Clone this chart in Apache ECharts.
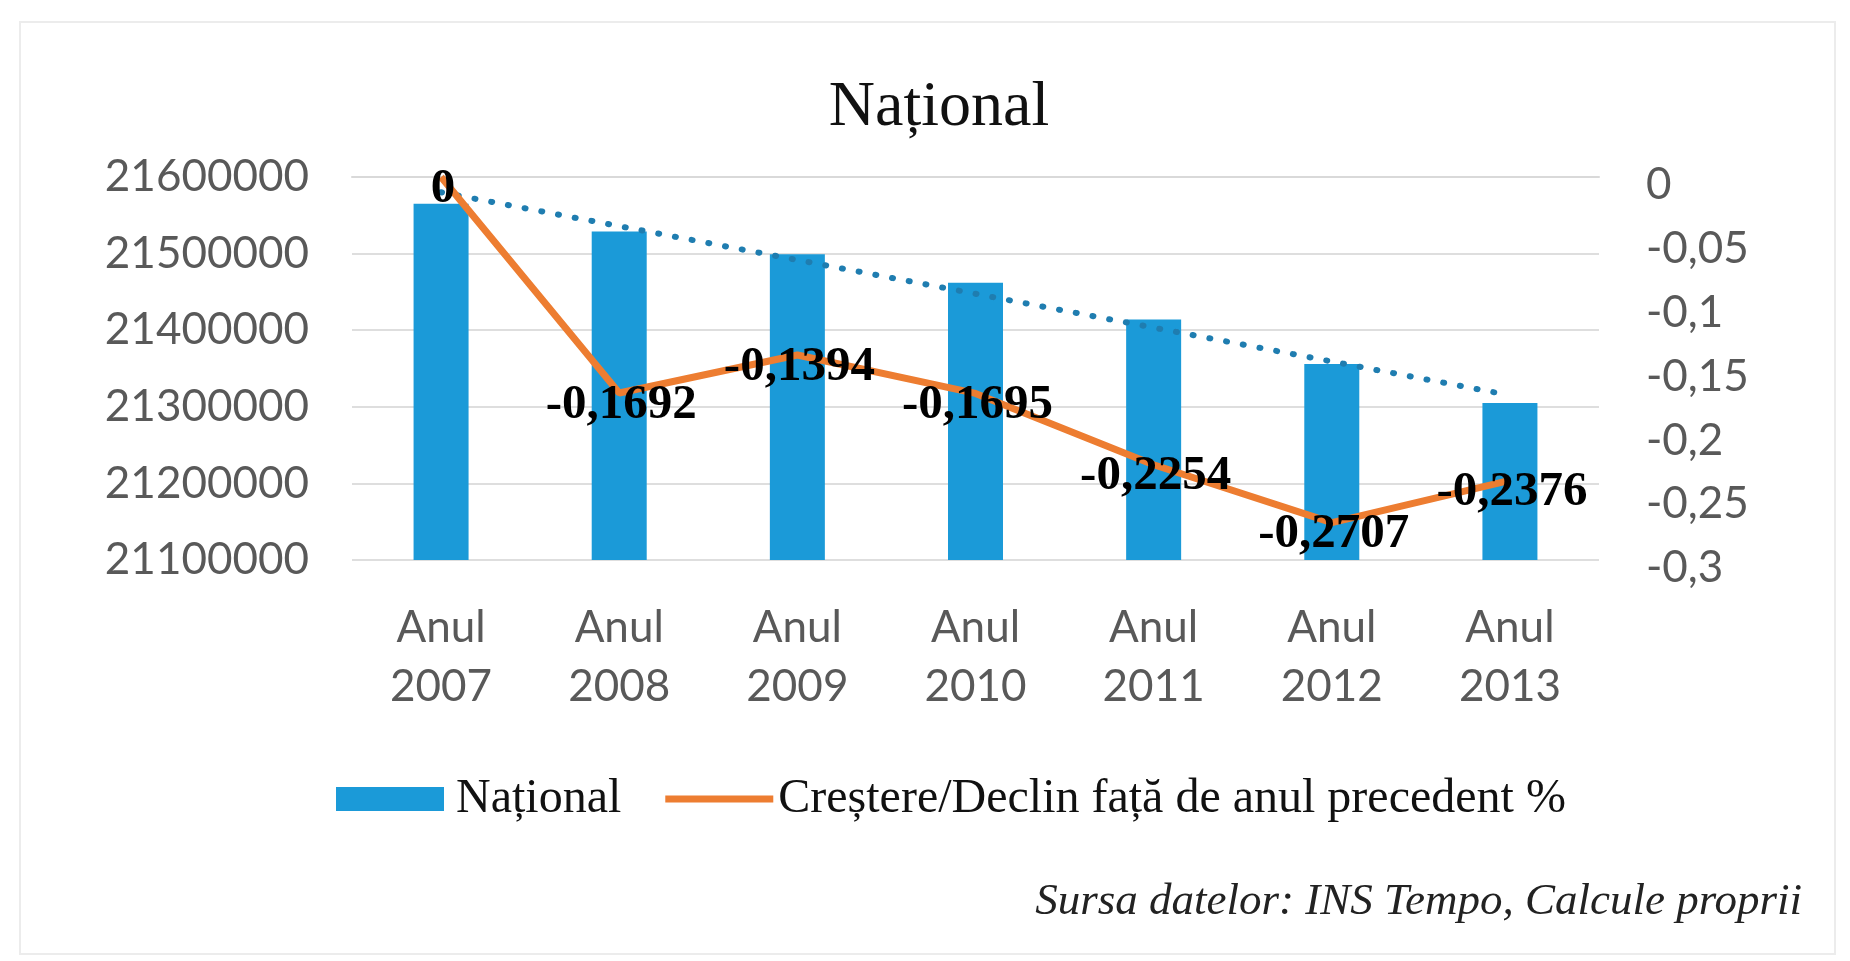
<!DOCTYPE html>
<html>
<head>
<meta charset="utf-8">
<script src="https://cdn.jsdelivr.net/npm/echarts@6/dist/echarts.min.js"></script>
<style>
  html, body { margin: 0; padding: 0; background: #fff; }
  #main { width: 1850px; height: 961px; }
</style>
</head>
<body>
<div id="main"></div>
<script>
// ani
const years = ['Anul\n2007', 'Anul\n2008', 'Anul\n2009', 'Anul\n2010', 'Anul\n2011', 'Anul\n2012', 'Anul\n2013']
// populatia (bare)
const populatie = [21565000, 21529000, 21499000, 21462000, 21414000, 21356000, 21305000]
// crestere / declin fata de anul precedent %
const crestere = [0, -0.1692, -0.1394, -0.1695, -0.2254, -0.2707, -0.2376]
// linia de tendinta punctata (capetele)
const tendinta = [21580000, null, null, null, null, null, 21315000]

const chart = echarts.init(document.getElementById('main'))

const sans = 'Lato'
const serif = '"Liberation Serif", "Times New Roman", serif'

// linie groasa pentru legenda, cu cutie 108x24
const lineIcon = 'path://M0,0L108,0L108,0Z M0,8.5L108,8.5L108,15.5L0,15.5Z M0,24L108,24L108,24Z'

const option = {
  backgroundColor: '#fff',
  animation: false,
  title: {
    text: 'Național',
    left: 934,
    textAlign: 'center',
    top: 71,
    textStyle: {
      fontFamily: serif,
      fontSize: 64,
      fontWeight: 'normal',
      color: '#111'
    }
  },
  legend: {
    data: [
      { name: 'Național', icon: 'rect', textStyle: { padding: [0, 0, 0, 7] } },
      {
        name: 'Creștere/Declin față de anul precedent %',
        icon: lineIcon,
        itemStyle: { color: '#ED7D31', opacity: 1 }
      }
    ],
    left: 331,
    top: 770,
    itemWidth: 108,
    itemHeight: 24,
    itemGap: 44,
    textStyle: {
      fontFamily: serif,
      fontSize: 48,
      color: '#111'
    }
  },
  grid: {
    left: 352,
    right: 251,
    top: 177,
    bottom: 401
  },
  xAxis: {
    type: 'category',
    data: years,
    axisTick: { show: false },
    axisLine: { lineStyle: { color: '#d9d9d9', width: 2 } },
    axisLabel: {
      fontFamily: sans,
      fontSize: 44,
      lineHeight: 59,
      color: '#595959',
      margin: 38
    }
  },
  yAxis: [
    {
      type: 'value',
      min: 21100000,
      max: 21600000,
      interval: 100000,
      axisLine: { show: false },
      axisTick: { show: false },
      splitLine: { lineStyle: { color: '#dedede', width: 2 } },
      axisLabel: {
        fontFamily: sans,
        fontSize: 44,
        color: '#595959',
        margin: 43,
        formatter: (v) => String(v)
      }
    },
    {
      type: 'value',
      min: -0.3,
      max: 0,
      interval: 0.05,
      axisLine: { show: false },
      axisTick: { show: false },
      splitLine: { show: false },
      axisLabel: {
        fontFamily: sans,
        fontSize: 44,
        color: '#595959',
        margin: 47,
        verticalAlign: 'top',
        lineHeight: 16,
        formatter: (v) => String(+v.toFixed(2)).replace('.', ',')
      }
    }
  ],
  series: [
    {
      name: 'Național',
      type: 'bar',
      data: populatie,
      barWidth: 55,
      itemStyle: { color: '#1B9AD8' },
      z: 2
    },
    {
      name: 'tendinta',
      type: 'line',
      data: tendinta,
      connectNulls: true,
      symbol: 'none',
      silent: true,
      lineStyle: {
        color: '#1F7DB0',
        width: 6,
        type: [1, 16],
        cap: 'round'
      },
      z: 3
    },
    {
      name: 'Creștere/Declin față de anul precedent %',
      type: 'line',
      yAxisIndex: 1,
      data: crestere,
      symbol: 'circle',
      symbolSize: 0.1,
      showSymbol: true,
      lineStyle: { color: '#ED7D31', width: 7 },
      itemStyle: { color: '#ED7D31' },
      label: {
        show: true,
        position: 'inside',
        offset: [2, 12],
        fontFamily: serif,
        fontWeight: 'bold',
        fontSize: 49,
        color: '#000',
        formatter: (p) => String(p.value).replace('.', ',')
      },
      z: 4
    }
  ],
  graphic: [
    {
      type: 'rect',
      shape: { x: 20, y: 22, width: 1815, height: 932 },
      style: { fill: 'none', stroke: '#ececec', lineWidth: 2 },
      silent: true
    },
    {
      type: 'text',
      right: 48,
      top: 880,
      style: {
        text: 'Sursa datelor: INS Tempo, Calcule proprii',
        font: 'italic 45px "Liberation Serif", serif',
        fill: '#222'
      }
    }
  ]
}

chart.setOption(option)
</script>
</body>
</html>
